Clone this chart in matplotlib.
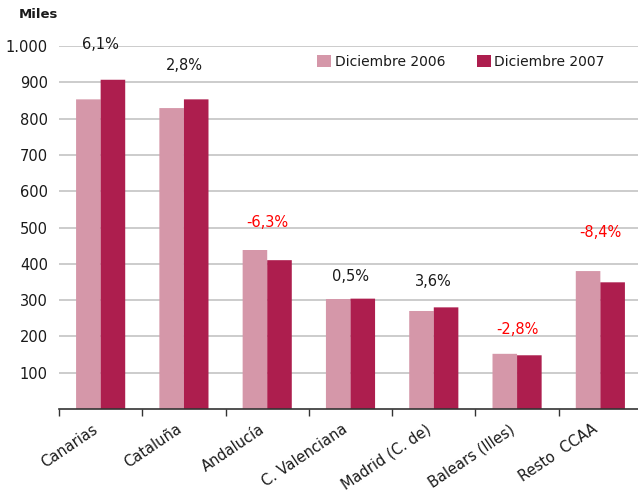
import matplotlib
matplotlib.use("Agg")
import matplotlib.pyplot as plt
import numpy as np
from matplotlib.ticker import FuncFormatter

categories = ["Canarias", "Cataluña", "Andalucía", "C. Valenciana",
              "Madrid (C. de)", "Balears (Illes)", "Resto  CCAA"]
dic_2006 = [853, 829, 438, 303, 270, 152, 380]
dic_2007 = [907, 853, 410, 304, 280, 148, 349]
pct_labels = ["6,1%", "2,8%", "-6,3%", "0,5%", "3,6%", "-2,8%", "-8,4%"]
label_y = [1003, 947, 515, 366, 350, 220, 487]
series_names = ["Diciembre 2006", "Diciembre 2007"]

plt.rcParams['font.family'] = ['DejaVu Sans']

W, H = 638, 495
fig = plt.figure(figsize=(W / 100, H / 100), dpi=100)
ax = fig.add_axes([59 / W, (H - 409) / H, 583 / W, 363 / H])

x = np.arange(len(categories))
bw = 0.295
c_light = "#D597A9"
c_dark = "#AD1E4E"
ax.bar(x - bw / 2, dic_2006, width=bw, color=c_light, label=series_names[0],
       linewidth=0, snap=False, zorder=3)
ax.bar(x + bw / 2, dic_2007, width=bw, color=c_dark, label=series_names[1],
       linewidth=0, snap=False, zorder=3)

for xi, txt, yv in zip(x, pct_labels, label_y):
    col = "#FF0000" if txt.startswith("-") else "#1a1a1a"
    ax.text(xi, yv, txt, ha="center", va="center", fontsize=10.5, color=col,
            clip_on=False, zorder=5)

ax.set_xlim(-0.5, len(categories) - 0.5)
ax.set_ylim(0, 1000)
ax.set_yticks(np.arange(100, 1001, 100))
ax.yaxis.set_major_formatter(FuncFormatter(lambda v, p: f"{int(v):,}".replace(",", ".")))
ax.tick_params(axis="y", length=0, pad=8, labelsize=10.5, labelcolor="#1a1a1a")
ax.grid(axis="y", color="#cccccc", linewidth=1.4, zorder=0)

ax.set_xticks(np.arange(-0.5, len(categories) - 0.5 + 0.01, 1.0))
ax.set_xticklabels([])
ax.tick_params(axis="x", length=5, width=1, color="#333333", direction="out")
ax.set_xticks(x, minor=True)
ax.set_xticklabels(categories, minor=True, rotation=34, ha="right", va="top",
                   rotation_mode="default", fontsize=10.5, color="#1a1a1a")
ax.tick_params(axis="x", which="minor", length=0, pad=9)

for s in ["top", "right", "left"]:
    ax.spines[s].set_visible(False)
ax.spines["bottom"].set_color("#333333")
ax.spines["bottom"].set_linewidth(1.2)
ax.spines["bottom"].set_zorder(4)

fig.text(19 / W, 1 - 15 / H, "Miles", fontsize=9.5, fontweight="bold",
         ha="left", va="center", color="#1a1a1a")

leg = ax.legend(loc="center", bbox_to_anchor=(461 / W, 1 - 62 / H),
                bbox_transform=fig.transFigure, ncol=2, frameon=False,
                fontsize=10, handlelength=1.0, handleheight=0.9,
                handletextpad=0.25, columnspacing=2.3)
for t in leg.get_texts():
    t.set_color("#1a1a1a")

fig.savefig("out.png", dpi=100)
